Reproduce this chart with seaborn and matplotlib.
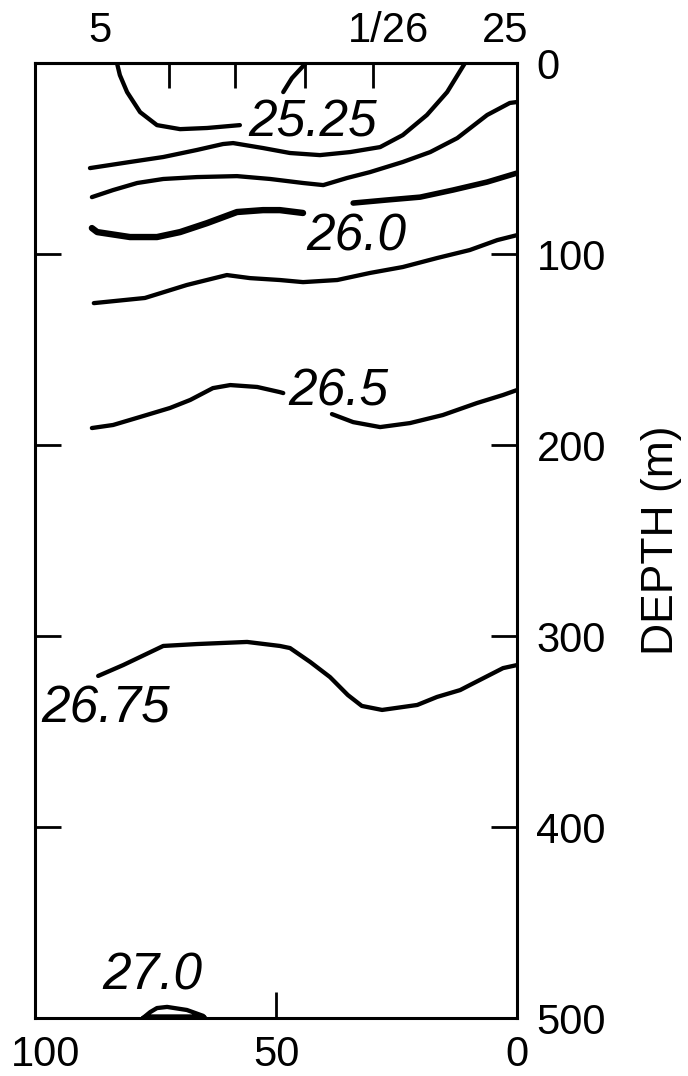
import matplotlib
matplotlib.use("Agg")
import matplotlib.pyplot as plt
import matplotlib.transforms as mtransforms
import seaborn as sns
import pandas as pd

# ---- data: isopycnal traces (distance, depth m) ----
l2525a_x = [83.0, 82.4, 80.9, 78.2, 74.7, 69.9, 64.3, 57.5]
l2525a_d = [0.0, 6.3, 15.2, 25.7, 32.5, 34.6, 34.0, 32.5]
l2525b_x = [48.5, 46.7, 43.8]
l2525b_d = [15.2, 7.9, 0.0]

l255_x = [88.6, 80.3, 73.4, 66.4, 61.0, 58.9, 52.7, 47.1, 40.9, 34.6, 28.4, 23.7, 18.7, 14.5, 10.8]
l255_d = [55.0, 51.8, 49.2, 45.5, 42.4, 41.9, 44.5, 47.1, 48.2, 46.6, 44.0, 37.7, 27.2, 15.2, 0.0]

l2575_x = [88.2, 83.8, 78.8, 73.4, 66.4, 58.1, 51.2, 44.4, 40.2, 35.3, 30.5, 23.7, 18.0, 12.4, 6.2, 1.5, 0.0]
l2575_d = [70.2, 66.5, 62.8, 60.7, 59.7, 59.2, 60.7, 62.8, 63.9, 60.2, 57.1, 51.8, 46.6, 39.3, 27.2, 20.9, 20.4]

l260a_x = [88.2, 87.1, 80.3, 74.7, 69.9, 64.3, 58.1, 52.7, 49.2, 44.4]
l260a_d = [86.4, 88.5, 91.1, 91.1, 88.5, 83.8, 78.0, 77.0, 77.0, 78.5]
l260b_x = [34.0, 27.0, 20.1, 13.3, 6.2, 0.0]
l260b_d = [73.3, 71.7, 70.2, 66.5, 62.3, 57.6]

l2625_x = [87.8, 77.2, 68.5, 60.2, 55.4, 49.2, 44.4, 37.3, 30.5, 23.7, 16.6, 9.8, 4.1, 0.0]
l2625_d = [125.7, 123.0, 116.2, 111.0, 112.6, 113.6, 114.7, 113.6, 109.9, 106.8, 102.1, 97.9, 92.7, 90.1]

l265a_x = [88.2, 83.8, 78.2, 72.0, 67.8, 63.1, 59.5, 53.9, 49.2, 48.5]
l265a_d = [191.1, 189.5, 185.3, 180.6, 176.4, 170.2, 168.6, 169.6, 172.3, 172.8]
l265b_x = [38.4, 34.0, 28.4, 22.2, 15.4, 8.3, 2.9, 0.0]
l265b_d = [183.8, 188.0, 190.6, 188.5, 184.3, 178.0, 173.8, 171.2]

l2675_x = [86.9, 81.7, 73.4, 66.4, 56.0, 49.2, 47.1, 42.9, 38.8, 35.1, 32.2, 28.0, 20.7, 16.6, 11.8, 9.8, 2.9, 0.0]
l2675_d = [320.9, 315.2, 305.2, 304.2, 303.1, 305.2, 306.3, 313.6, 321.5, 330.9, 336.6, 338.7, 336.1, 331.9, 328.3, 325.7, 316.8, 315.2]

l270_x = [77.6, 76.1, 74.7, 72.6, 68.5, 65.1, 64.7, 65.8, 76.8, 77.6]
l270_d = [500.0, 496.9, 494.8, 494.2, 495.8, 498.9, 500.0, 499.2, 499.2, 500.0]

contour_labels = ["25.25", "26.0", "26.5", "26.75", "27.0"]
label_x = [42.5, 33.4, 37.1, 85.3, 75.7]
label_d = [38.7, 97.9, 179.1, 345.5, 485.3]

bottom_ticks = [100, 50, 0]
depth_ticks = [0, 100, 200, 300, 400, 500]
top_minor_ticks = [86.5, 72.3, 58.5, 44.0, 29.8]
top_label_pos = [86.5, 26.6, 2.5]
top_labels = ["5", "1/26", "25"]

# ---- styling ----
sns.set_theme(style="white")
plt.rcParams["font.family"] = ["Liberation Sans", "DejaVu Sans"]

fig = plt.figure(figsize=(6.88, 10.76), dpi=100)
ax = fig.add_axes([0.0509, 0.0539, 0.7006, 0.8875])

thin = 3.1
thick = 4.6
segments = [
    (l2525a_x, l2525a_d, thin), (l2525b_x, l2525b_d, thin),
    (l255_x, l255_d, thin), (l2575_x, l2575_d, thin),
    (l260a_x, l260a_d, thick), (l260b_x, l260b_d, thick - 0.6),
    (l2625_x, l2625_d, thin),
    (l265a_x, l265a_d, thin), (l265b_x, l265b_d, thin),
    (l2675_x, l2675_d, thin), (l270_x, l270_d, thin),
]
for xs, ds, lw in segments:
    df = pd.DataFrame({"x": xs, "d": ds})
    sns.lineplot(data=df, x="x", y="d", sort=False, estimator=None, color="black",
                 lw=lw, ax=ax, solid_capstyle="round", solid_joinstyle="round")

for t, x, d in zip(contour_labels, label_x, label_d):
    ax.text(x, d, t, ha="center", va="baseline", fontsize=37, style="italic", color="black")

ax.set_xlim(100, 0)
ax.set_ylim(500, 0)
ax.set_xlabel("")

for s in ax.spines.values():
    s.set_visible(True)
    s.set_linewidth(2.2)
    s.set_color("black")

ax.set_xticks(bottom_ticks)
ax.set_xticklabels([str(v) for v in bottom_ticks])
ax.tick_params(axis="x", direction="in", length=19, width=2, bottom=True, top=False,
               labelsize=30, pad=12, colors="black")
# the "100" label sits slightly right of the corner in the original
first = ax.get_xticklabels()[0]
first.set_transform(first.get_transform() +
                    mtransforms.ScaledTranslation(11 / 100, 0, fig.dpi_scale_trans))

ax.set_yticks(depth_ticks)
ax.set_yticklabels([str(v) for v in depth_ticks])
ax.tick_params(axis="y", direction="in", length=19, width=2, left=True, right=True,
               labelleft=False, labelright=True, labelsize=30, pad=14, colors="black")
ax.yaxis.set_label_position("right")
ax.set_ylabel("DEPTH (m)", fontsize=32, rotation=90, color="black")
ax.yaxis.label.set_ha("center")
ax.yaxis.label.set_va("center")
ax.yaxis.set_label_coords(1.30, 0.5)

sec = ax.secondary_xaxis("top")
sec.set_xticks(top_label_pos)
sec.set_xticklabels(top_labels)
sec.set_xticks(top_minor_ticks, minor=True)
sec.tick_params(axis="x", which="major", length=0, labelsize=30, pad=9, colors="black")
sec.tick_params(axis="x", which="minor", direction="in", length=18, width=2, colors="black")
sec.spines["top"].set_linewidth(2.2)

fig.savefig("out.png", dpi=100, facecolor="white")
